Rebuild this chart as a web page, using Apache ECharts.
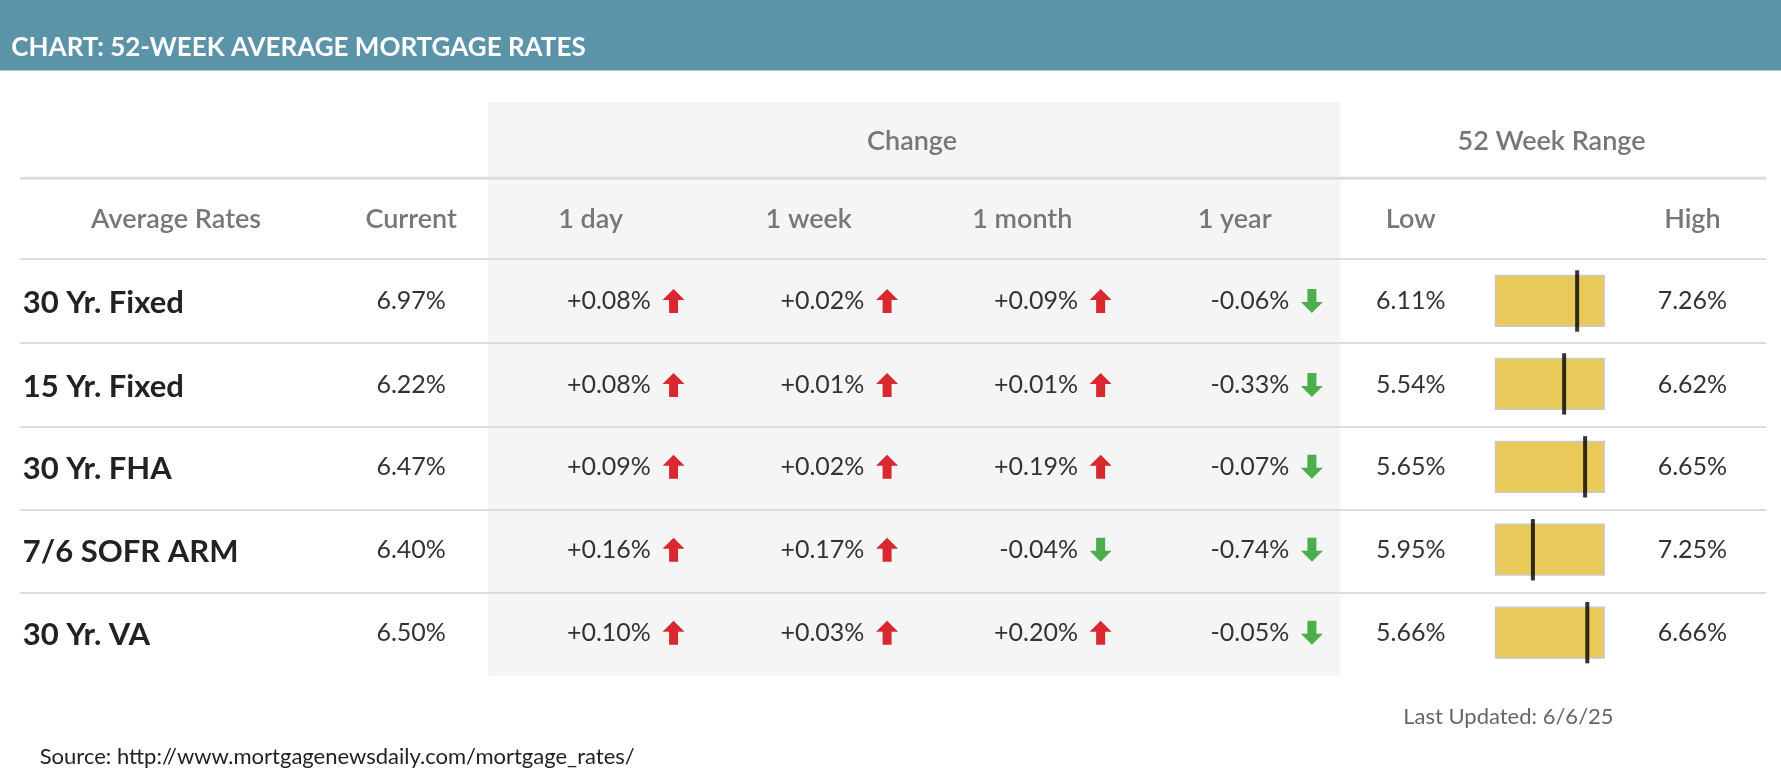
<!DOCTYPE html>
<html><head><meta charset="utf-8">
<script src="https://cdn.jsdelivr.net/npm/echarts@6/dist/echarts.min.js"></script>
<style>html,body{margin:0;padding:0;background:#fff}#c{width:1781px;height:781px}</style>
</head><body><div id="c"></div>
<script>
const title = "CHART: 52-WEEK AVERAGE MORTGAGE RATES";
const products = ["30 Yr. Fixed","15 Yr. Fixed","30 Yr. FHA","7/6 SOFR ARM","30 Yr. VA"];
const current = [6.97,6.22,6.47,6.40,6.50];
const chgDay = [0.08,0.08,0.09,0.16,0.10];
const chgWeek = [0.02,0.01,0.02,0.17,0.03];
const chgMonth = [0.09,0.01,0.19,-0.04,0.20];
const chgYear = [-0.06,-0.33,-0.07,-0.74,-0.05];
const low52 = [6.11,5.54,5.65,5.95,5.66];
const high52 = [7.26,6.62,6.65,7.25,6.66];
const colHeads = ["Average Rates","Current","1 day","1 week","1 month","1 year","Low","High"];
const updated = "Last Updated: 6/6/25";
const source = "Source: http://www.mortgagenewsdaily.com/mortgage_rates/";

const S = 1781/1568;
const F = "Lato, 'Open Sans', sans-serif";
const rowY = [265,339,411,484,557];
const g = [];
const f = (w,px)=> w+' '+Math.round(px*S)+'px '+F;
g.push({type:'rect',shape:{x:0,y:0,width:1781,height:62*S},style:{fill:'#5b93a9'}});
g.push({type:'text',x:10*S,y:42*S,style:{text:title,fill:'#fff',font:f('bold',23),textVerticalAlign:'middle'}});
g.push({type:'rect',shape:{x:430*S,y:90*S,width:750*S,height:505*S},style:{fill:'#f5f5f5'},z:-1});
g.push({type:'line',shape:{x1:18*S,y1:157*S,x2:1555*S,y2:157*S},style:{stroke:'#dcdcdc',lineWidth:3}});
[228,302,376,449,522].forEach(y=>g.push({type:'line',shape:{x1:18*S,y1:y*S,x2:1555*S,y2:y*S},style:{stroke:'#dcdcdc',lineWidth:2}}));
function txt(t,x,y,font,fill,align){g.push({type:'text',x:x*S,y:y*S,style:{text:t,font:font,fill:fill,textAlign:align||'center',textVerticalAlign:'middle'}});}
txt("Change",803,124,f('600',24),'#777');
txt("52 Week Range",1366,124,f('600',24),'#777');
const hx=[155,362,520,712,900,1087,1242,1490];
colHeads.forEach((h,i)=>txt(h,hx[i],193,f('600',24),'#777'));
const fmt=v=>(v>=0?'+':'-')+Math.abs(v).toFixed(2)+'%';
function arrow(cx,cy,up){
  const c=up?'#d9282f':'#4cae4c';
  const s=up?1:-1, x=cx*S, y=cy*S;
  g.push({type:'polygon',shape:{points:[[x,y-12*s],[x+11,y-1*s],[x+4.5,y-1*s],[x+4.5,y+12*s],[x-4.5,y+12*s],[x-4.5,y-1*s],[x-11,y-1*s]]},style:{fill:c}});
}
const chgCols=[[chgDay,593],[chgWeek,781],[chgMonth,969],[chgYear,1155]];
products.forEach((p,i)=>{
  const y=rowY[i];
  txt(p,20,y+2,f('bold',27),'#222','left');
  txt(current[i].toFixed(2)+'%',362,y,f('normal',22),'#333');
  chgCols.forEach(([arr,x])=>{txt(fmt(arr[i]),x-20,y,f('normal',22),'#333','right'); arrow(x,y,arr[i]>=0);});
  txt(low52[i].toFixed(2)+'%',1242,y,f('normal',22),'#333');
  txt(high52[i].toFixed(2)+'%',1490,y,f('normal',22),'#333');
});
txt(updated,1328,631,f('normal',19),'#666');
txt(source,35,666,f('normal',19),'#222','left');

const pos = current.map((c,i)=>[100*(c-low52[i])/(high52[i]-low52[i]), i]);
const chart = echarts.init(document.getElementById('c'));
chart.setOption({
  animation:false,
  grid:{left:1316*S,width:97*S,top:228.5*S,height:365*S},
  xAxis:{type:'value',min:0,max:100,show:false},
  yAxis:{type:'category',data:products,inverse:true,show:false},
  series:[
    {type:'bar',data:products.map(()=>100),barWidth:46*S,itemStyle:{color:'#e9c95a',borderColor:'#c9c9c9',borderWidth:1.5}},
    {type:'scatter',data:pos,symbol:'rect',symbolSize:[4,54*S],itemStyle:{color:'#000'},z:5}
  ],
  graphic:g
});
</script></body></html>
